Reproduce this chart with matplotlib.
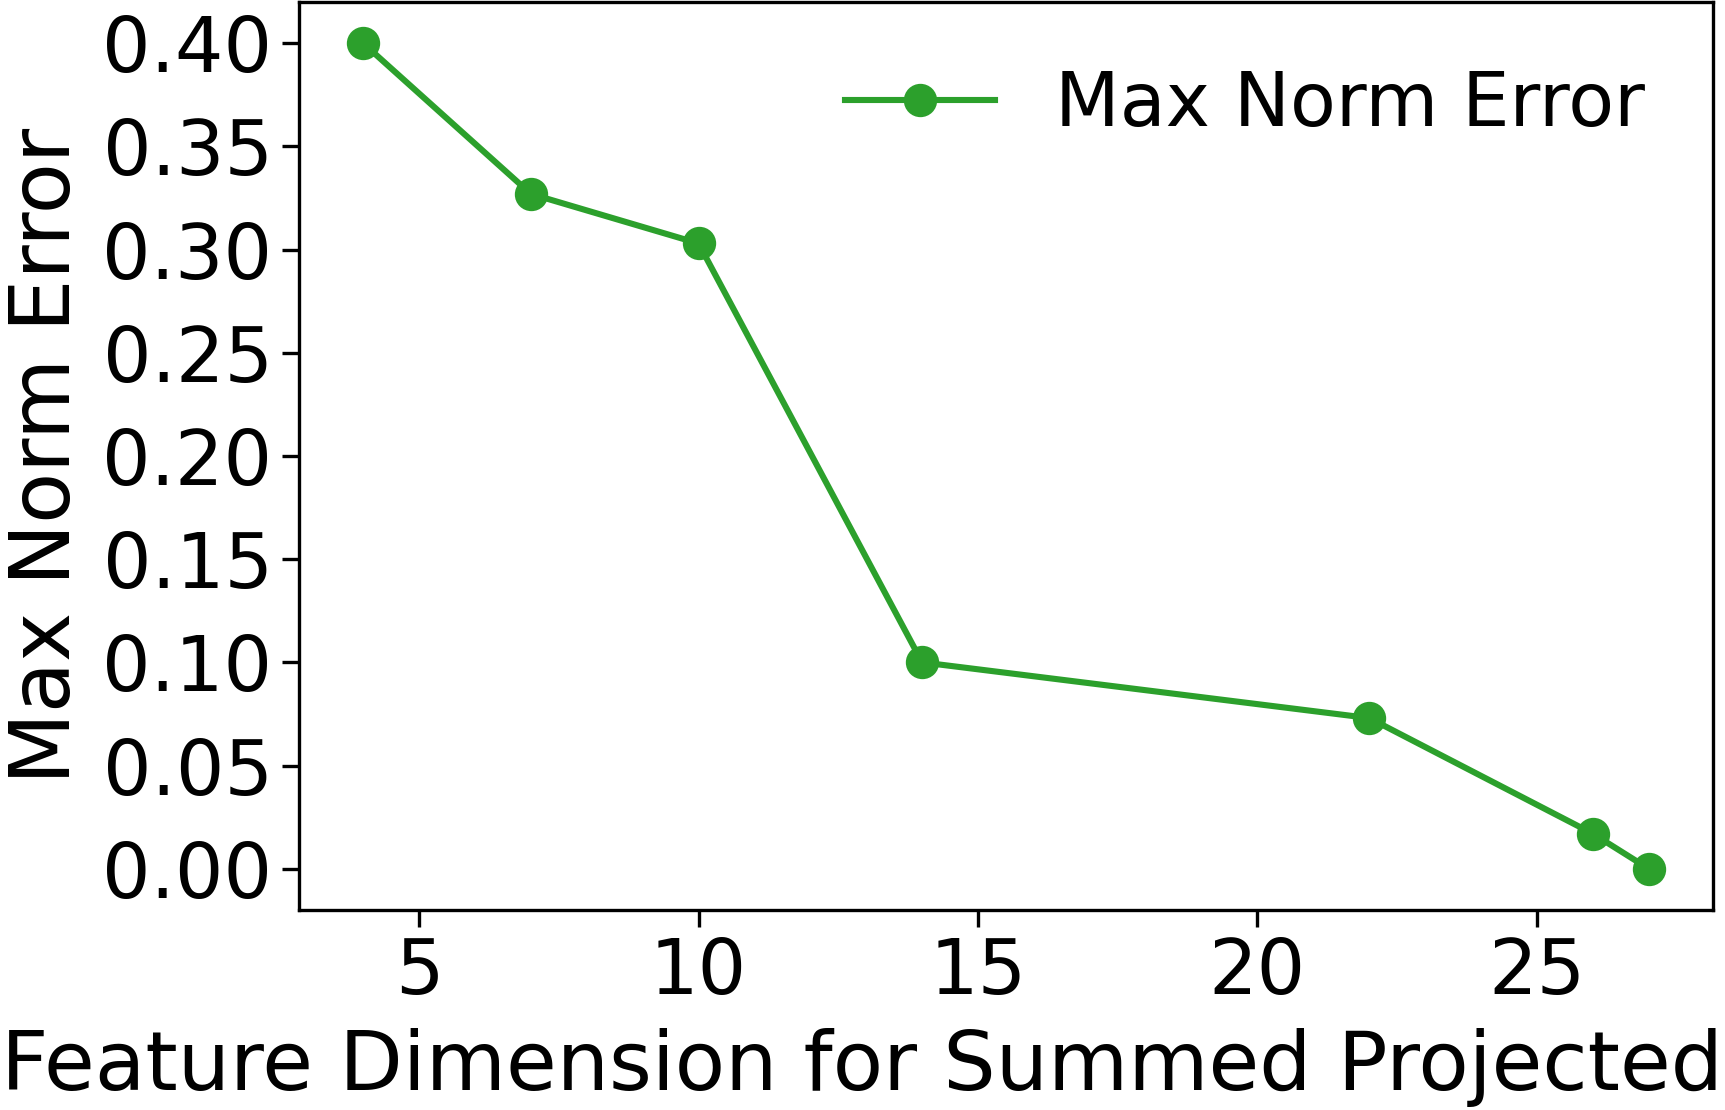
import matplotlib
matplotlib.use('Agg')
import matplotlib.pyplot as plt

feature_dim = [4, 7, 10, 14, 22, 26, 27]
max_norm_error = [0.400, 0.327, 0.303, 0.100, 0.073, 0.017, 0.000]

fig = plt.figure(figsize=(8.625, 5.55), dpi=200)
ax = fig.add_axes([0.1733, 0.1802, 0.8197, 0.818])

ax.plot(feature_dim, max_norm_error, color="#2ca02c", marker="o",
        linewidth=2.2, markersize=11, label="Max Norm Error")

ax.set_yticks([0.0, 0.05, 0.10, 0.15, 0.20, 0.25, 0.30, 0.35, 0.40])
ax.set_xticks([5, 10, 15, 20, 25])
ax.tick_params(labelsize=27.5, width=1.2, length=6)
for s in ax.spines.values():
    s.set_linewidth(1.2)

ax.set_xlabel("Feature Dimension for Summed Projected", fontsize=29.7)
ax.xaxis.set_label_coords(0.3985, -0.13)
ax.set_ylabel("Max Norm Error", fontsize=30)
ax.yaxis.set_label_coords(-0.15, 0.5)
ax.legend(loc="upper right", fontsize=27, frameon=False)

fig.savefig("out.png", dpi=200)
